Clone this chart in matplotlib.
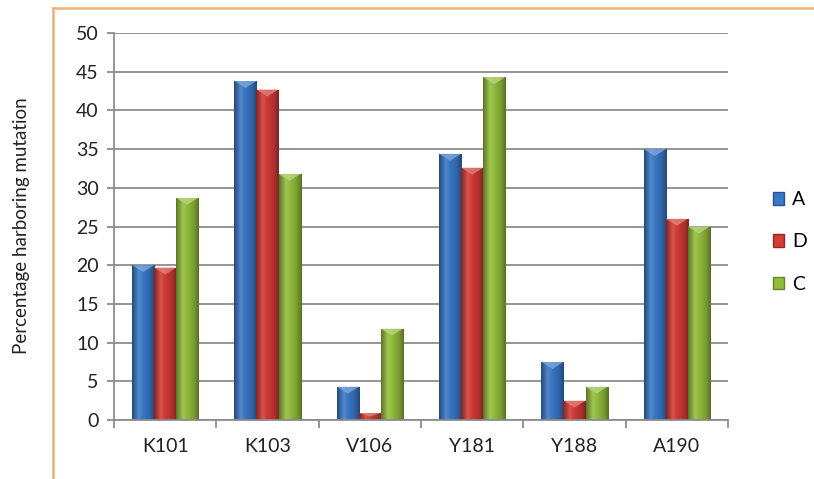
import matplotlib.pyplot as plt
import numpy as np
from matplotlib.colors import LinearSegmentedColormap, to_rgb
from matplotlib.patches import Rectangle, Polygon
from matplotlib.lines import Line2D

categories = ["K101", "K103", "V106", "Y181", "Y188", "A190"]
series_names = ["A", "D", "C"]
vals_a = [20.0, 43.8, 4.3, 34.4, 7.5, 35.0]
vals_d = [19.7, 42.7, 0.9, 32.6, 2.5, 26.0]
vals_c = [28.7, 31.8, 11.8, 44.3, 4.3, 25.0]

colors = ["#3a78c6", "#d23b36", "#93bd3c"]
plt.rcParams['font.family'] = ['Lato', 'DejaVu Sans']


def shade(c, f):
    r = np.array(to_rgb(c))
    if f < 1:
        return tuple(r * f)
    return tuple(r + (1 - r) * (f - 1))


def cyl_cmap(c):
    stops = [(0.0, shade(c, 0.62)), (0.3, shade(c, 1.12)), (0.45, shade(c, 1.0)),
             (0.8, shade(c, 0.82)), (1.0, shade(c, 0.6))]
    return LinearSegmentedColormap.from_list("cyl", stops)


fig = plt.figure(figsize=(8.14, 4.79), dpi=100)
fig.patch.set_facecolor("white")

# orange chart-area frame (left and top edges)
fig.add_artist(Line2D([53 / 814, 53 / 814], [0, 1 - 8 / 479], color="#eeb07a", lw=1.8))
fig.add_artist(Line2D([53 / 814, 1], [1 - 8 / 479, 1 - 8 / 479], color="#eeb07a", lw=1.8))

ax = fig.add_axes([114 / 814, 1 - 420 / 479, (728 - 114) / 814, (420 - 33) / 479])
ax.set_xlim(0, len(categories))
ax.set_ylim(0, 50)

grad = np.linspace(0, 1, 64).reshape(1, -1)
w = 0.215
data = [vals_a, vals_d, vals_c]
for s, vals in enumerate(data):
    cm = cyl_cmap(colors[s])
    for i, v in enumerate(vals):
        x0 = i + 0.5 + (s - 1.5) * w
        rect = Rectangle((x0, 0), w, v, facecolor="none", edgecolor="none")
        ax.add_patch(rect)
        im = ax.imshow(grad, cmap=cm, extent=(x0, x0 + w, 0, v), aspect="auto",
                       interpolation="bilinear", zorder=2)
        im.set_clip_path(rect)
        # bevelled top
        cap = min(0.9, v * 0.5)
        ax.add_patch(Polygon([(x0, v), (x0 + w, v), (x0 + w * 0.5, v - cap)],
                             closed=True, facecolor=shade(colors[s], 1.35),
                             edgecolor="none", alpha=0.8, zorder=3))

ax.set_yticks(range(0, 51, 5))
ax.yaxis.grid(True, color="#8c8c8c", lw=1.3)
ax.set_axisbelow(True)
ax.set_xticks(range(0, len(categories) + 1))
ax.set_xticklabels([])
ax.set_xticks(np.arange(len(categories)) + 0.5, minor=True)
ax.set_xticklabels(categories, minor=True, fontsize=14, color="#222222")
ax.tick_params(axis="x", which="minor", length=0, pad=13)
ax.tick_params(axis="x", which="major", length=6, color="#8c8c8c", width=1.3)
ax.tick_params(axis="y", length=5, color="#8c8c8c", width=1.3, labelsize=14,
               labelcolor="#222222", pad=6)
for sp in ["top", "right"]:
    ax.spines[sp].set_visible(False)
for sp in ["left", "bottom"]:
    ax.spines[sp].set_color("#8c8c8c")
    ax.spines[sp].set_linewidth(1.3)

fig.text(22 / 814, 1 - 226 / 479, "Percentage harboring mutation", rotation=90,
         ha="center", va="center", fontsize=13.5, color="#222222")

handles = [Rectangle((0, 0), 1, 1, facecolor=c, edgecolor=shade(c, 0.7)) for c in colors]
fig.legend(handles, series_names, loc="center left", bbox_to_anchor=(755 / 814, 1 - 242 / 479),
           frameon=False, fontsize=14, handlelength=0.6, handleheight=0.6,
           handletextpad=0.4, labelspacing=1.3)

fig.savefig("out.png", dpi=100, facecolor="white")
